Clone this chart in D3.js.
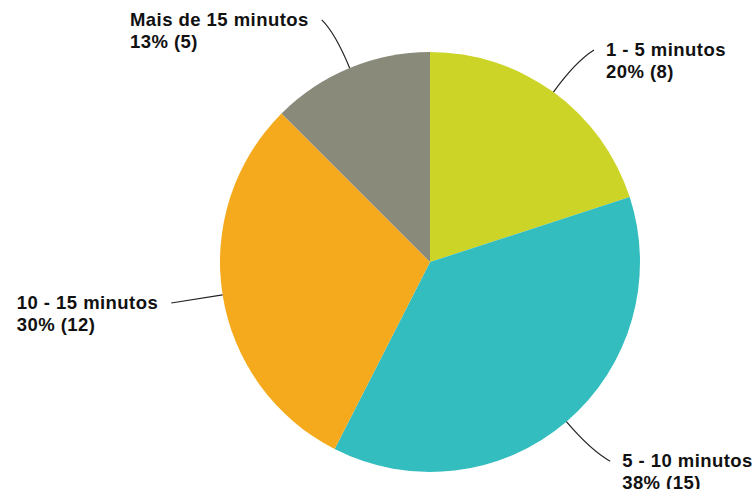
<!DOCTYPE html>
<html>
<head>
<meta charset="utf-8">
<script src="https://cdn.jsdelivr.net/npm/d3@7"></script>
<style>
  body { margin: 0; background: #fff; }
  text { font-family: "Liberation Sans", Arial, sans-serif; font-weight: bold; font-size: 18.5px; letter-spacing: 0.45px; fill: #111; }
</style>
</head>
<body>
<svg width="752" height="489"></svg>
<script>
  // data
  const categories = ['1 - 5 minutos', '5 - 10 minutos', '10 - 15 minutos', 'Mais de 15 minutos'];
  const counts = [8, 15, 12, 5];
  const colors = ['#cdd428', '#34bdbf', '#f5aa1e', '#8a8a7a'];

  const svg = d3.select('svg');
  const cx = 430, cy = 262, r = 210;
  const g = svg.append('g').attr('transform', `translate(${cx},${cy})`);

  const total = d3.sum(counts);
  const pie = d3.pie().sort(null).value(d => d.count);
  const arc = d3.arc().innerRadius(0).outerRadius(r);

  const data = categories.map((c, i) => ({ name: c, count: counts[i], color: colors[i] }));
  const arcs = pie(data);

  g.selectAll('path.slice')
    .data(arcs)
    .enter()
      .append('path')
      .attr('class', 'slice')
      .attr('d', arc)
      .attr('fill', d => d.data.color);

  // point on a circle of radius rr at angle a (0 = 12 o'clock, clockwise)
  const pt = (a, rr) => [Math.sin(a) * rr, -Math.cos(a) * rr];

  arcs.forEach(d => {
    const mid = (d.startAngle + d.endAngle) / 2;
    const right = Math.sin(mid) > 0;
    const p0 = pt(mid, r);
    const pc = pt(mid, r + 38);
    const pe = pt(mid, r + 52);
    const shift = Math.abs(Math.sin(mid)) > 0.95 ? 0 : (right ? 10 : -8);
    pe[0] += shift;

    g.append('path')
      .attr('d', `M${p0[0]},${p0[1]}Q${pc[0]},${pc[1]} ${pe[0]},${pe[1]}`)
      .attr('fill', 'none')
      .attr('stroke', '#222')
      .attr('stroke-width', 1.2);

    const pct = Math.round(d.data.count / total * 100);
    const t = g.append('text').attr('y', pe[1] + 6);
    const l1 = t.append('tspan').text(d.data.name);
    const l2 = t.append('tspan').attr('dy', 22).text(pct + '% (' + d.data.count + ')');
    const w = l1.node().getComputedTextLength();
    const x = right ? pe[0] + 12 : pe[0] - 13 - w;
    l1.attr('x', x);
    l2.attr('x', x);
  });
</script>
</body>
</html>
